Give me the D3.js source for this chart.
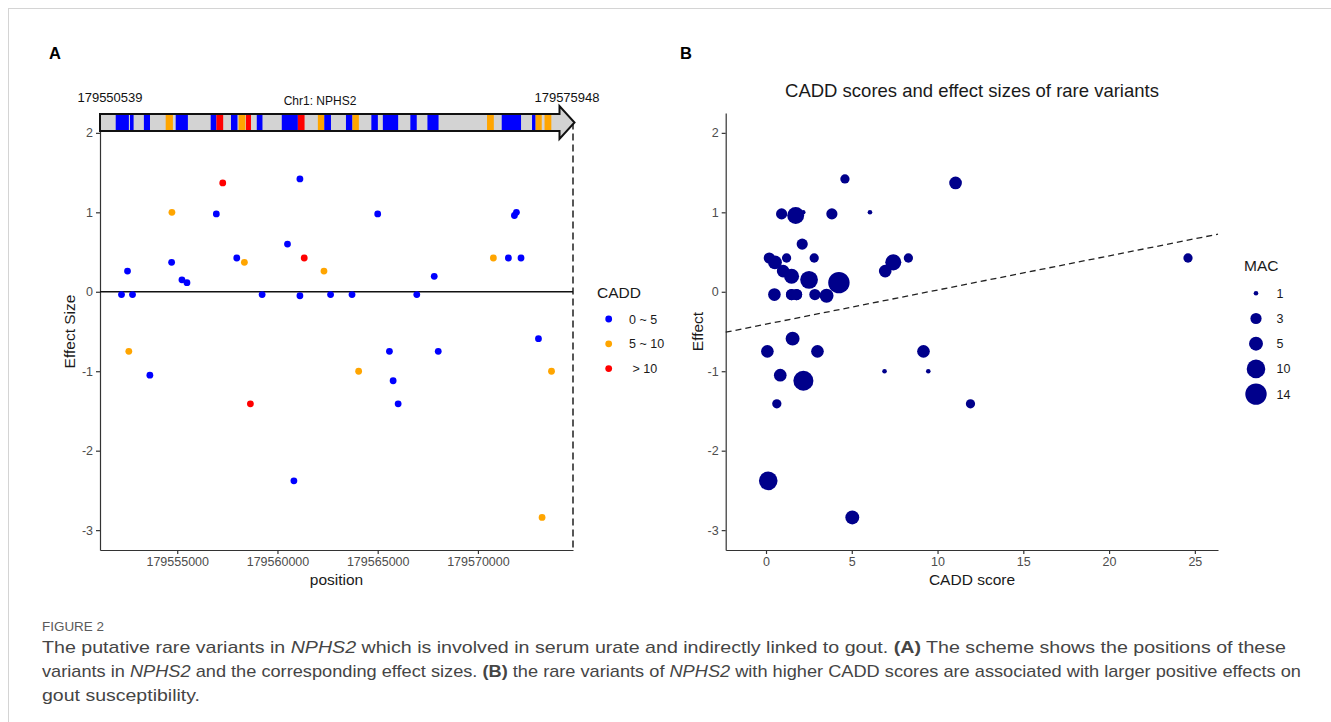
<!DOCTYPE html>
<html lang="en">
<head>
<meta charset="utf-8">
<title>NPHS2 rare variants</title>
<style>
    body { margin: 0; background: #fff; }
    svg { display: block; font-family: "Liberation Sans", Arial, sans-serif; }
    .axis .tick text { fill: #4d4d4d; font-size: 12.5px; }
    .axis path, .axis line { stroke: #333; stroke-width: 1.2; }
    .lab { fill: #1a1a1a; font-size: 15.5px; }
    .leg text { font-size: 12.5px; fill: #1a1a1a; white-space: pre; }
    .caption { font-family: "Liberation Sans Narrow", "Liberation Sans", sans-serif; fill: #454545; font-size: 17px; }
</style>
</head>
<body>
<svg id="fig" width="1331" height="722"></svg>
<script src="https://d3js.org/d3.v7.min.js"></script>
<script>
// variants (one entry per variant, same order in every array)
var position = [179552220, 179552520, 179552585, 179552770, 179553635, 179554720, 179554735, 179555235, 179555485, 179556950,
                179557270, 179557970, 179558350, 179558650, 179559235, 179560500, 179560820, 179561120, 179561120, 179561335,
                179562320, 179562650, 179563720, 179564050, 179565000, 179565585, 179565770, 179566020, 179566950, 179567820,
                179568020, 179570770, 179571520, 179571820, 179571920, 179572150, 179573020, 179573200, 179573670];
var effect = [-0.035, 0.26, -0.75, -0.035, -1.05, 0.37, 1.0, 0.15, 0.115, 0.98,
              1.37, 0.425, 0.37, -1.41, -0.035, 0.6, -2.38, 1.42, -0.05, 0.425,
              0.26, -0.035, -0.035, -1.0, 0.98, -0.75, -1.12, -1.41, -0.035, 0.195,
              -0.75, 0.425, 0.425, 0.96, 1.0, 0.425, -0.59, -2.84, -1.0];
var cadd = [0.49, 1.0, 9.18, 1.49, 0.83, 0.52, 6.06, 2.51, 4.25, 0.91,
            11.05, 0.19, 7.42, 11.92, 1.78, 2.11, 0.13, 4.6, 3.53, 24.6,
            6.95, 2.85, 1.49, 6.91, 3.84, 0.08, 2.18, 0.63, 1.78, 1.49,
            3.0, 8.3, 1.2, 1.73, 2.17, 2.81, 1.55, 5.03, 9.46];
var mac = [4, 4, 4, 3, 4, 5, 1, 9, 14, 3,
           4, 3, 7, 2, 3, 3, 10, 2, 5, 2,
           4, 3, 3, 1, 3, 4, 12, 2, 3, 6,
           4, 2, 2, 8, 1, 2, 5, 5, 1];

var caddBreaks = [5, 10];
var caddLabels = ['0 ~ 5', '5 ~ 10', ' > 10'];
var caddColors = ['#0000ff', '#ffa500', '#ff0000'];

// gene model (exons coloured by CADD class index)
var geneStart = 179550539, geneEnd = 179575948;
var exonStart = [179551380, 179552145, 179552889, 179554057, 179554592, 179556466, 179556771, 179557553, 179557960, 179558356,
                 179558934, 179560273, 179561135, 179562205, 179562548, 179563710, 179564058, 179565070, 179565685, 179567158,
                 179568073, 179571264, 179572051, 179573674, 179573866, 179574343];
var exonEnd = [179552086, 179552338, 179553216, 179554442, 179555245, 179556771, 179557135, 179557901, 179558324, 179558624,
               179559239, 179561135, 179561493, 179562548, 179562907, 179564058, 179564401, 179565418, 179566505, 179567500,
               179568668, 179571628, 179573085, 179573866, 179574193, 179574707];
var exonClass = [0, 0, 0, 1, 0, 0, 2, 0, 1, 2,
                 0, 0, 2, 1, 0, 0, 1, 0, 0, 0,
                 0, 1, 0, 0, 1, 1];

var effectTicks = [-3, -2, -1, 0, 1, 2];
var effectLimits = [-3.25, 2.25];
var positionTicks = [179555000, 179560000, 179565000, 179570000];
var caddTicks = [0, 5, 10, 15, 20, 25];
var caddLimits = [-2.35, 26.35];
var macBreaks = [1, 3, 5, 10, 14];
var fitIntercept = -0.408, fitSlope = 0.043;

var svg = d3.select('#fig');
svg.append('rect').attr('width', 1331).attr('height', 722).attr('fill', '#fff');

// page frame
svg.append('line').attr('x1', 8).attr('x2', 1331).attr('y1', 8.5).attr('y2', 8.5).attr('stroke', '#d4d4d4');
svg.append('line').attr('x1', 8.5).attr('x2', 8.5).attr('y1', 8).attr('y2', 722).attr('stroke', '#d4d4d4');

var colorOf = d3.scaleThreshold().domain(caddBreaks).range(caddColors);
var plain = function(d) { return String(d); };
var yA = d3.scaleLinear().domain(effectLimits).range([550, 113]);

// ---------- panel A ----------
var ext = d3.extent(position), pad = (ext[1] - ext[0]) * 0.05;
var xA = d3.scaleLinear().domain([ext[0] - pad, ext[1] + pad]).range([100, 573]);

svg.append('text').attr('x', 49).attr('y', 59).attr('font-weight', 'bold').attr('font-size', 16.5).text('A');

svg.append('g').attr('class', 'axis')
    .attr('transform', 'translate(100,0)')
    .call(d3.axisLeft(yA).tickValues(effectTicks).tickFormat(plain).tickSize(4).tickSizeOuter(0).tickPadding(3));
svg.append('g').attr('class', 'axis')
    .attr('transform', 'translate(0,550)')
    .call(d3.axisBottom(xA).tickValues(positionTicks).tickFormat(plain).tickSize(4).tickSizeOuter(0).tickPadding(3));

svg.append('line').attr('x1', 100).attr('x2', 573).attr('y1', yA(0)).attr('y2', yA(0))
    .attr('stroke', '#111').attr('stroke-width', 1.3);

// gene graphic
var gx = d3.scaleLinear().domain([geneStart, geneEnd]).range([100, 574.5]);
var barTop = 114, barBot = 131, headTop = 106, headBot = 139, headLen = 15;
var x0 = gx(geneStart), xt = gx(geneEnd), xb = xt - headLen, ym = (barTop + barBot) / 2;

svg.append('line').attr('x1', 573).attr('x2', 573).attr('y1', ym).attr('y2', 550)
    .attr('stroke', '#111').attr('stroke-width', 1.4).attr('stroke-dasharray', '7,4');

var outline = 'M' + x0 + ',' + barTop + 'L' + xb + ',' + barTop + 'L' + xb + ',' + headTop + 'L' + xt + ',' + ym +
    'L' + xb + ',' + headBot + 'L' + xb + ',' + barBot + 'L' + x0 + ',' + barBot + 'Z';
svg.append('path').attr('d', outline).attr('fill', '#d3d3d3');
svg.append('g').selectAll('rect')
    .data(exonStart)
    .enter()
    .append('rect')
    .attr('x', function(d) { return gx(d); })
    .attr('width', function(d, i) { return gx(exonEnd[i]) - gx(d); })
    .attr('y', barTop)
    .attr('height', barBot - barTop)
    .attr('fill', function(d, i) { return caddColors[exonClass[i]]; });
svg.append('path').attr('d', outline).attr('fill', 'none').attr('stroke', '#111').attr('stroke-width', 2);

svg.append('text').attr('x', 110).attr('y', 102).attr('text-anchor', 'middle').attr('font-size', 13).attr('fill', '#111').text(geneStart);
svg.append('text').attr('x', 567).attr('y', 102).attr('text-anchor', 'middle').attr('font-size', 13).attr('fill', '#111').text(geneEnd);
svg.append('text').attr('x', 320).attr('y', 105).attr('text-anchor', 'middle').attr('font-size', 12).attr('fill', '#111').text('Chr1: NPHS2');

svg.append('g').selectAll('circle')
    .data(position)
    .enter()
    .append('circle')
    .attr('cx', function(d) { return xA(d); })
    .attr('cy', function(d, i) { return yA(effect[i]); })
    .attr('r', 3.4)
    .attr('fill', function(d, i) { return colorOf(cadd[i]); });

svg.append('text').attr('class', 'lab').attr('transform', 'translate(75,331.5) rotate(-90)')
    .attr('text-anchor', 'middle').text('Effect Size');
svg.append('text').attr('class', 'lab').attr('x', 336.5).attr('y', 585).attr('text-anchor', 'middle').text('position');

// legend A
var legA = svg.append('g').attr('class', 'leg');
legA.append('text').attr('x', 597).attr('y', 298).style('font-size', '15.5px').text('CADD');
caddLabels.forEach(function(lab, i) {
    var y = 319 + i * 24.8;
    legA.append('circle').attr('cx', 608.7).attr('cy', y).attr('r', 3.4).attr('fill', caddColors[i]);
    legA.append('text').attr('x', 629).attr('y', y + 4.5).text(lab);
});

// ---------- panel B ----------
var xB = d3.scaleLinear().domain(caddLimits).range([725.7, 1218]);
var yB = d3.scaleLinear().domain(effectLimits).range([550, 113]);
var rB = d3.scaleSqrt().domain([0, 13]).range([2.3, 10.7]);

svg.append('text').attr('x', 680).attr('y', 59).attr('font-weight', 'bold').attr('font-size', 16.5).text('B');
svg.append('text').attr('x', 972).attr('y', 96.5).attr('text-anchor', 'middle').attr('font-size', 18.5).attr('fill', '#1a1a1a')
    .text('CADD scores and effect sizes of rare variants');

svg.append('g').attr('class', 'axis')
    .attr('transform', 'translate(725.7,0)')
    .call(d3.axisLeft(yB).tickValues(effectTicks).tickFormat(plain).tickSize(4).tickSizeOuter(0).tickPadding(3));
svg.append('g').attr('class', 'axis')
    .attr('transform', 'translate(0,550)')
    .call(d3.axisBottom(xB).tickValues(caddTicks).tickFormat(plain).tickSize(4).tickSizeOuter(0).tickPadding(3));

svg.append('g').selectAll('circle')
    .data(cadd)
    .enter()
    .append('circle')
    .attr('cx', function(d) { return xB(d); })
    .attr('cy', function(d, i) { return yB(effect[i]); })
    .attr('r', function(d, i) { return rB(mac[i] - 1); })
    .attr('fill', '#00008b');

svg.append('line')
    .attr('x1', xB(caddLimits[0])).attr('y1', yB(fitIntercept + fitSlope * caddLimits[0]))
    .attr('x2', xB(caddLimits[1])).attr('y2', yB(fitIntercept + fitSlope * caddLimits[1]))
    .attr('stroke', '#222').attr('stroke-width', 1.3).attr('stroke-dasharray', '6,4');

svg.append('text').attr('class', 'lab').attr('transform', 'translate(703,331.5) rotate(-90)')
    .attr('text-anchor', 'middle').text('Effect');
svg.append('text').attr('class', 'lab').attr('x', 972).attr('y', 585).attr('text-anchor', 'middle').text('CADD score');

// legend B
var legB = svg.append('g').attr('class', 'leg');
legB.append('text').attr('x', 1244).attr('y', 271).style('font-size', '15.5px').text('MAC');
macBreaks.forEach(function(v, i) {
    var y = 293.3 + i * 25.2;
    legB.append('circle').attr('cx', 1256).attr('cy', y).attr('r', rB(v - 1)).attr('fill', '#00008b');
    legB.append('text').attr('x', 1276.5).attr('y', y + 4.5).text(v);
});

// ---------- caption ----------
svg.append('text').attr('x', 42).attr('y', 631).attr('font-size', 13).attr('fill', '#5a5a5a')
    .attr('font-family', '"Liberation Sans Narrow", "Liberation Sans", sans-serif')
    .attr('textLength', 62).attr('lengthAdjust', 'spacingAndGlyphs').text('FIGURE 2');

var captionLines = [
    [['The putative rare variants in ', ''], ['NPHS2', 'i'], [' which is involved in serum urate and indirectly linked to gout. ', ''],
     ['(A)', 'b'], [' The scheme shows the positions of these', '']],
    [['variants in ', ''], ['NPHS2', 'i'], [' and the corresponding effect sizes. ', ''], ['(B)', 'b'],
     [' the rare variants of ', ''], ['NPHS2', 'i'], [' with higher CADD scores are associated with larger positive effects on', '']],
    [['gout susceptibility.', '']]
];
var captionWidths = [1244, 1259, 158];
captionLines.forEach(function(parts, i) {
    var t = svg.append('text').attr('class', 'caption')
        .attr('x', 42).attr('y', 653 + i * 24)
        .attr('textLength', captionWidths[i]).attr('lengthAdjust', 'spacingAndGlyphs')
        .style('white-space', 'pre');
    parts.forEach(function(p) {
        t.append('tspan')
            .attr('font-style', p[1] === 'i' ? 'italic' : null)
            .attr('font-weight', p[1] === 'b' ? 'bold' : null)
            .text(p[0]);
    });
});
</script>
</body>
</html>
